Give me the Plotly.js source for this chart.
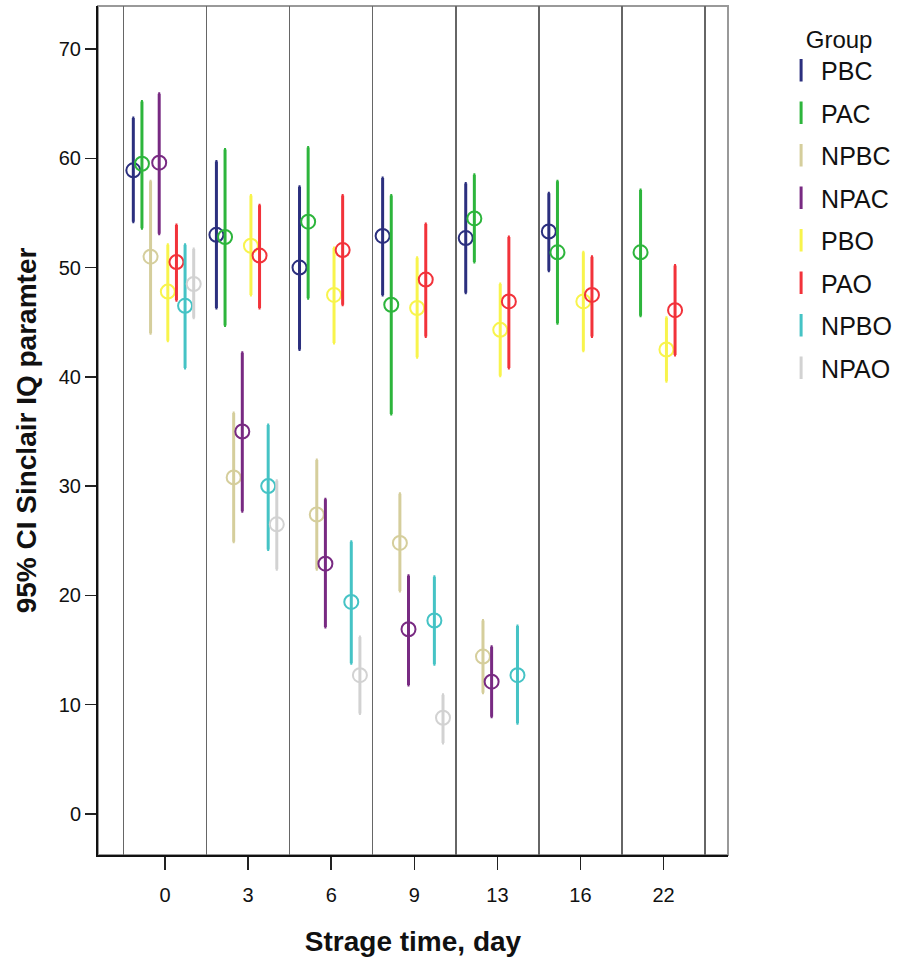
<!DOCTYPE html>
<html>
<head>
<meta charset="utf-8">
<script src="https://cdn.plot.ly/plotly-3.0.1.min.js"></script>
<style>html,body{margin:0;padding:0;background:#fff;}#chart{width:903px;height:960px;}</style>
</head>
<body>
<div id="chart"></div>
<script>
// Storage time categories (tick labels)
const days = ["0", "3", "6", "9", "13", "16", "22"];
const groups = ["PBC", "PAC", "NPBC", "NPAC", "PBO", "PAO", "NPBO", "NPAO"];
const colors = ["#2B2F7E", "#2DB53C", "#D5CE9C", "#782A82", "#F8F44C", "#F2323A", "#45C3C5", "#D2D2D2"];

// Means and 95% CI bounds per group (null = not measured)
const PBC_mean = [58.9, 53.0, 50.0, 52.9, 52.7, 53.3, null];
const PBC_hi   = [63.7, 59.7, 57.4, 58.2, 57.7, 56.8, null];
const PBC_lo   = [54.2, 46.3, 42.5, 47.5, 47.7, 49.7, null];

const PAC_mean = [59.5, 52.8, 54.2, 46.6, 54.5, 51.4, 51.4];
const PAC_hi   = [65.2, 60.8, 61.0, 56.6, 58.5, 57.9, 57.1];
const PAC_lo   = [53.6, 44.7, 47.2, 36.6, 50.5, 44.9, 45.6];

const NPBC_mean = [51.0, 30.8, 27.4, 24.8, 14.4, null, null];
const NPBC_hi   = [57.9, 36.7, 32.4, 29.3, 17.7, null, null];
const NPBC_lo   = [44.0, 24.9, 22.4, 20.4, 11.1, null, null];

const NPAC_mean = [59.6, 35.0, 22.9, 16.9, 12.1, null, null];
const NPAC_hi   = [65.9, 42.2, 28.8, 21.8, 15.3, null, null];
const NPAC_lo   = [53.1, 27.7, 17.1, 11.8, 8.9, null, null];

const PBO_mean = [47.8, 52.0, 47.5, 46.3, 44.3, 46.9, 42.5];
const PBO_hi   = [52.1, 56.6, 51.8, 50.9, 48.5, 51.4, 45.4];
const PBO_lo   = [43.3, 47.5, 43.1, 41.8, 40.1, 42.4, 39.6];

const PAO_mean = [50.5, 51.1, 51.6, 48.9, 46.9, 47.5, 46.1];
const PAO_hi   = [53.9, 55.7, 56.6, 54.0, 52.8, 51.0, 50.2];
const PAO_lo   = [47.0, 46.3, 46.6, 43.7, 40.8, 43.7, 42.0];

const NPBO_mean = [46.5, 30.0, 19.4, 17.7, 12.7, null, null];
const NPBO_hi   = [52.1, 35.6, 24.9, 21.7, 17.2, null, null];
const NPBO_lo   = [40.8, 24.2, 13.8, 13.7, 8.3, null, null];

const NPAO_mean = [48.5, 26.5, 12.7, 8.8, null, null, null];
const NPAO_hi   = [51.7, 30.5, 16.2, 10.9, null, null, null];
const NPAO_lo   = [45.4, 22.4, 9.2, 6.5, null, null, null];

const means = [PBC_mean, PAC_mean, NPBC_mean, NPAC_mean, PBO_mean, PAO_mean, NPBO_mean, NPAO_mean];
const his = [PBC_hi, PAC_hi, NPBC_hi, NPAC_hi, PBO_hi, PAO_hi, NPBO_hi, NPAO_hi];
const los = [PBC_lo, PAC_lo, NPBC_lo, NPAC_lo, PBO_lo, PAO_lo, NPBO_lo, NPAO_lo];

const catIdx = days.map((d, i) => i);
const traces = [];
groups.forEach((g, k) => {
  const off = -0.381 + 0.1038 * k;
  const m = means[k];
  traces.push({
    type: 'scatter', mode: 'markers', name: g, showlegend: false,
    x: catIdx.map(i => i + off),
    y: m,
    marker: {symbol: 'circle-open', size: 14, color: colors[k], line: {width: 2, color: colors[k]}},
    error_y: {
      type: 'data', symmetric: false,
      array: m.map((v, i) => v == null ? null : his[k][i] - v),
      arrayminus: m.map((v, i) => v == null ? null : v - los[k][i]),
      color: colors[k], thickness: 3, width: 1
    },
    hoverinfo: 'x+y'
  });
});
// legend entries
groups.forEach((g, k) => {
  traces.push({
    type: 'scatter', mode: 'markers', name: g, x: [null], y: [null],
    legendgroup: g, showlegend: true,
    marker: {symbol: 'line-ns', size: 20, color: colors[k], line: {width: 3, color: colors[k]}}
  });
});

const layout = {
  width: 903, height: 960,
  margin: {l: 98, r: 175, t: 6, b: 105},
  paper_bgcolor: '#fff', plot_bgcolor: '#fff',
  font: {family: 'Liberation Sans, Arial, sans-serif', color: '#111'},
  showlegend: true,
  xaxis: {
    range: [-0.806, 6.775],
    tickmode: 'array', tickvals: catIdx, ticktext: days,
    ticks: 'outside', ticklen: 13, tickwidth: 1.5, tickcolor: '#222',
    ticklabelstandoff: 8,
    tickfont: {size: 20, color: '#111'},
    showline: true, linecolor: '#111', linewidth: 2,
    showgrid: false, zeroline: false,
    minor: {tickmode: 'linear', tick0: 0.5, dtick: 1, showgrid: true, gridcolor: '#666', gridwidth: 1.5, ticks: ''},
    title: {text: 'Strage time, day', font: {size: 28, family: 'Liberation Sans, Arial, sans-serif', color: '#111', weight: 'bold'}, standoff: 26}
  },
  yaxis: {
    range: [-3.76, 73.94],
    tickmode: 'linear', tick0: 0, dtick: 10,
    ticks: 'outside', ticklen: 11, tickwidth: 1.5, tickcolor: '#222',
    tickfont: {size: 20, color: '#111'},
    showline: true, linecolor: '#111', linewidth: 2,
    showgrid: false, zeroline: false,
    title: {text: '95% CI Sinclair IQ paramter', font: {size: 28, family: 'Liberation Sans, Arial, sans-serif', color: '#111', weight: 'bold'}, standoff: 14}
  },
  shapes: [
    {type: 'rect', xref: 'paper', yref: 'paper', x0: 0, x1: 1, y0: 0, y1: 1, line: {color: '#999', width: 2}, layer: 'below'}
  ],
  legend: {
    xref: 'container', yref: 'container', x: 0.865, y: 0.983, xanchor: 'left', yanchor: 'top',
    font: {size: 25, color: '#111'},
    title: {text: 'Group', font: {size: 24, color: '#111'}, side: 'top center'},
    traceorder: 'grouped', tracegroupgap: 7, itemwidth: 30,
    bgcolor: 'rgba(0,0,0,0)'
  }
};

Plotly.newPlot('chart', traces, layout, {displayModeBar: false, staticPlot: true});
</script>
</body>
</html>
